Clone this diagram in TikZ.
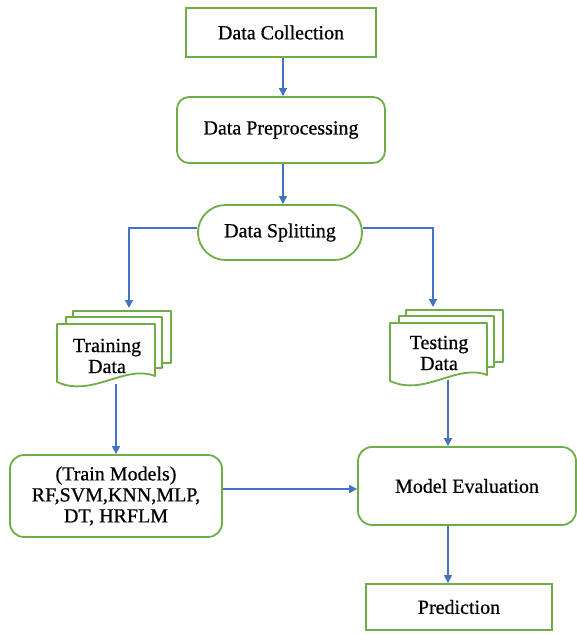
\documentclass[tikz,border=0pt]{standalone}
\usepackage{fontspec}
\setmainfont{Liberation Serif}[FakeBold=0.6]
\usetikzlibrary{arrows.meta,calc}

\definecolor{boxgreen}{HTML}{70AD47}
\definecolor{flowblue}{HTML}{4472C4}

\tikzset{
  box/.style={draw=boxgreen, line width=1.8pt, fill=white, align=center,
              font=\fontsize{20}{21}\selectfont, inner sep=0pt},
  docline/.style={draw=boxgreen, line width=1.8pt, fill=white, line join=round},
  doctext/.style={align=center, font=\fontsize{20}{21}\selectfont, inner sep=0pt},
  arr/.style={draw=flowblue, line width=1.4pt, -{Triangle[length=8pt,width=8pt]}},
}

% stack of three document sheets; #1 = left x, #2 = top y of the front sheet,
% #3 = width of the front sheet
\newcommand\docstack[3]{%
  \path[docline] ({#1+16},{#2}) -- ({#1+16},{#2-13}) -- ({#1+#3+16},{#2-13})
     -- ({#1+#3+16},{#2+39}) -- ({#1+#3+7},{#2+39});
  \path[docline] ({#1+9},{#2}) -- ({#1+9},{#2-7}) -- ({#1+#3+7},{#2-7})
     -- ({#1+#3+7},{#2+44}) -- ({#1+#3},{#2+44});
  \path[docline] ({#1},{#2}) -- ({#1+#3},{#2}) -- ({#1+#3},{#2+52})
     .. controls ({#1+#3-30},{#2+40}) and ({#1+35},{#2+74}) .. ({#1},{#2+58}) -- cycle;
}

\begin{document}
\begin{tikzpicture}[x=1pt,y=-1pt]
\useasboundingbox (0,0) rectangle (577,635);

% process boxes
\node[box, minimum width=190pt, minimum height=49pt] (coll) at (281,32.5) {Data Collection};
\node[box, rounded corners=12pt, minimum width=208pt, minimum height=66pt] (prep) at (281,130) {Data Preprocessing};
\node[box, rounded corners=27.5pt, minimum width=164pt, minimum height=55pt] (split) at (280,232.5) {Data Splitting};

% document stacks
\docstack{57}{324}{98}
\node[doctext] (train) at (107,356) {Training\\Data};
\coordinate (traintop) at (129,311);
\coordinate (trainbot) at (116,384);

\docstack{390}{323}{97}
\node[doctext] (test) at (439,353) {Testing\\Data};
\coordinate (testtop) at (433,310);
\coordinate (tcol) at (448,380);

\node[box, rounded corners=14pt, minimum width=212pt, minimum height=82pt] (models) at (116,496)
  {(Train Models)\\RF,SVM,KNN,MLP,\\DT, HRFLM};
\node[box, rounded corners=14pt, minimum width=218pt, minimum height=78pt] (eval) at (467,486) {Model Evaluation};
\node[box, minimum width=186pt, minimum height=46pt] (pred) at (459,607) {Prediction};

% connectors
\draw[arr] (coll.south -| 283,0) -- (prep.north -| 283,0);
\draw[arr] (prep.south -| 283,0) -- (split.north -| 283,0);
\draw[arr] ([yshift=4.5pt]split.west) -| ([yshift=3pt]traintop);
\draw[arr] ([yshift=4.5pt]split.east) -| ([yshift=3pt]testtop);
\draw[arr] (trainbot) -- (models.north -| trainbot);
\draw[arr] (tcol) -- (eval.north -| tcol);
\draw[arr] ([yshift=7pt]models.east) -- ([yshift=7pt]models.east -| eval.west);
\draw[arr] (eval.south -| tcol) -- (pred.north -| tcol);
\end{tikzpicture}
\end{document}
